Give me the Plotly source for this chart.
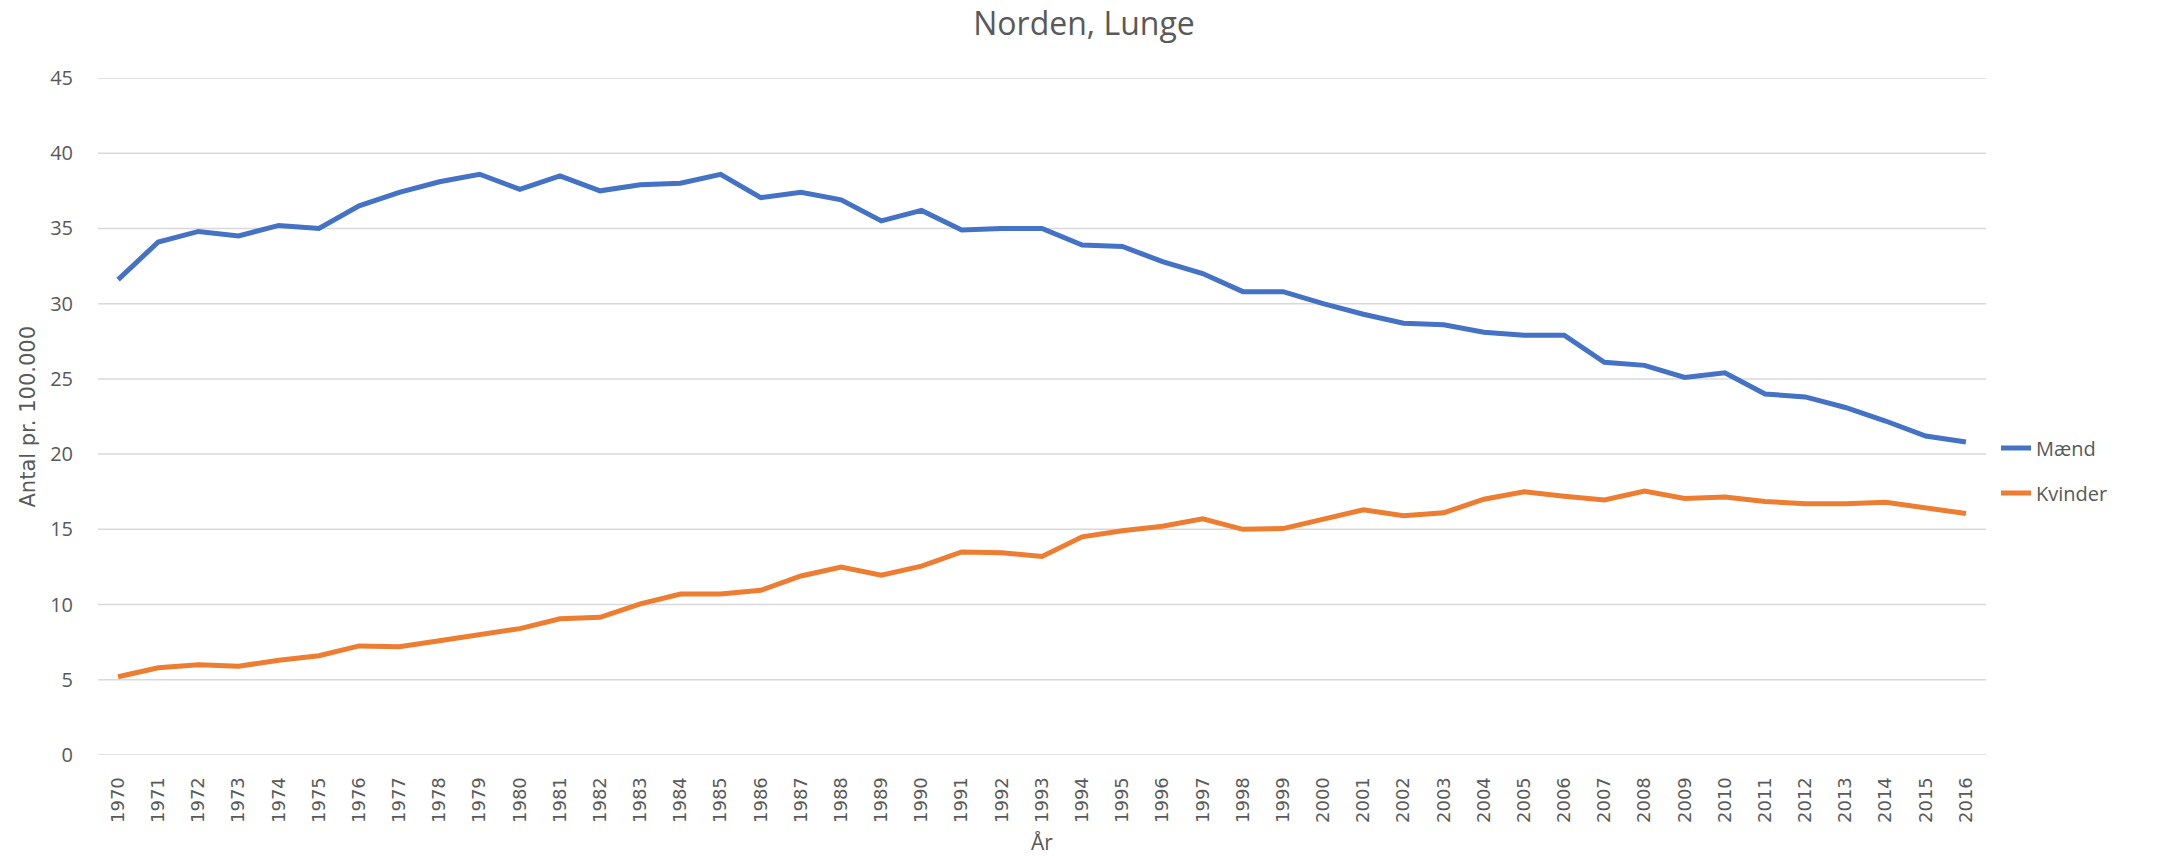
import plotly.graph_objects as go

years = [str(y) for y in range(1970, 2017)]
maend = [31.6, 34.1, 34.8, 34.5, 35.2, 35.0, 36.5, 37.4, 38.1, 38.6,
         37.6, 38.5, 37.5, 37.9, 38.0, 38.6, 37.05, 37.4, 36.9, 35.5,
         36.2, 34.9, 35.0, 35.0, 33.9, 33.8, 32.8, 32.0, 30.8, 30.8,
         30.0, 29.3, 28.7, 28.6, 28.1, 27.9, 27.9, 26.1, 25.9, 25.1,
         25.4, 24.0, 23.8, 23.1, 22.2, 21.2, 20.8]
kvinder = [5.2, 5.8, 6.0, 5.9, 6.3, 6.6, 7.25, 7.2, 7.6, 8.0,
           8.4, 9.05, 9.15, 10.05, 10.7, 10.7, 10.95, 11.9, 12.5, 11.95,
           12.55, 13.5, 13.45, 13.2, 14.5, 14.9, 15.2, 15.7, 15.0, 15.05,
           15.65, 16.3, 15.9, 16.1, 17.0, 17.5, 17.2, 16.95, 17.55, 17.05,
           17.15, 16.85, 16.7, 16.7, 16.8, 16.4, 16.05]

title = "Norden, Lunge"
y_title = "Antal pr. 100.000"
x_title = "År"
y_ticks = [0, 5, 10, 15, 20, 25, 30, 35, 40, 45]

W, H = 2183, 856
L, R, T, B = 98, 2183 - 1986, 78, 856 - 755
PW, PH = W - L - R, H - T - B

fig = go.Figure()
fig.add_trace(go.Scatter(x=years, y=maend, mode="lines", name="Mænd",
                         line=dict(color="#4472C4", width=5), legend="legend"))
fig.add_trace(go.Scatter(x=years, y=kvinder, mode="lines", name="Kvinder",
                         line=dict(color="#ED7D31", width=5), legend="legend2"))

grey = "#595959"
legend_common = dict(xanchor="left", yanchor="middle", bgcolor="rgba(0,0,0,0)",
                     font=dict(family="Open Sans", size=20, color=grey),
                     itemwidth=30)
fig.update_layout(
    width=W, height=H,
    margin=dict(l=L, r=R, t=T, b=B, autoexpand=False),
    paper_bgcolor="white", plot_bgcolor="white",
    title=dict(text=title, x=1084 / W, xref="container", xanchor="center",
               y=1 - 24 / H, yref="container", yanchor="middle",
               font=dict(family="Open Sans", size=32, color=grey)),
    legend=dict(x=(1996 - L) / PW, y=(755 - 448) / PH, **legend_common),
    legend2=dict(x=(1996 - L) / PW, y=(755 - 493) / PH, **legend_common),
    xaxis=dict(type="category", range=[-0.5, 46.5], showgrid=False, automargin=False,
               tickangle=-90, ticks="outside", ticklen=14, tickcolor="rgba(0,0,0,0)",
               tickfont=dict(family="DejaVu Sans", size=18, color=grey),
               showline=False, zeroline=False),
    yaxis=dict(range=[0, 45], tickvals=y_ticks, showgrid=False, automargin=False,
               zeroline=False, showline=False, ticks="outside", ticklen=20,
               tickcolor="rgba(0,0,0,0)",
               tickfont=dict(family="Open Sans", size=20, color=grey)),
    showlegend=True,
    annotations=[
        dict(text=y_title, textangle=-90, xref="paper", yref="paper",
             x=(27 - L) / PW, y=0.5, xanchor="center", yanchor="middle", showarrow=False,
             font=dict(family="DejaVu Sans", size=21, color=grey)),
        dict(text=x_title, xref="paper", yref="paper",
             x=0.5, y=-(842 - 755) / PH, xanchor="center", yanchor="middle", showarrow=False,
             font=dict(family="Open Sans", size=21, color=grey)),
    ],
)
# horizontal gridlines at each y tick
for v in y_ticks:
    fig.add_shape(type="line", xref="paper", yref="y", x0=0, x1=1, y0=v, y1=v,
                  line=dict(color="#D9D9D9", width=1.5), layer="below")

fig.write_html("out.html", config={"displayModeBar": False},
               post_script="document.body.style.margin='0';document.body.style.overflow='hidden';")
